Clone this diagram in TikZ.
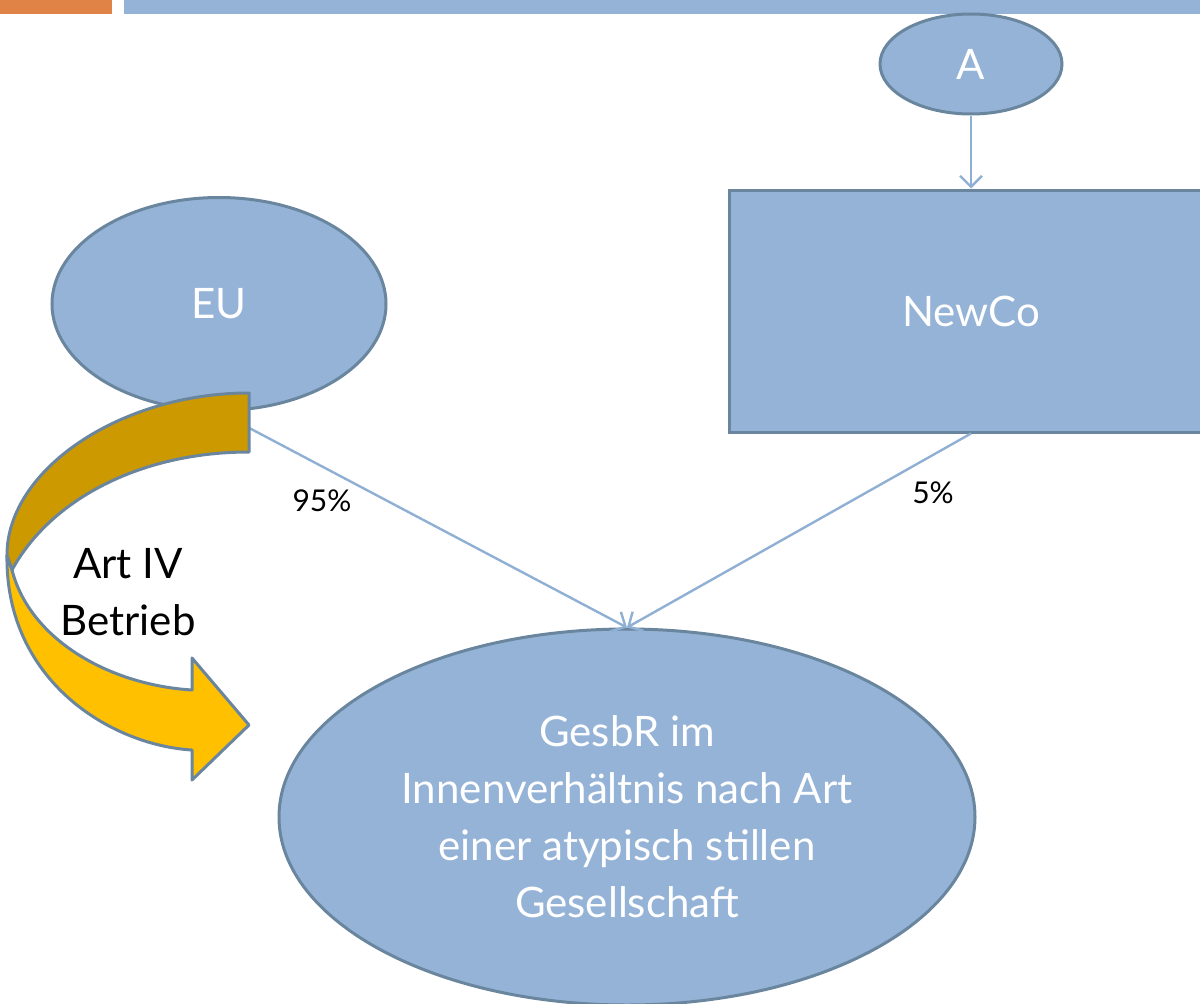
\documentclass[tikz,border=0pt]{standalone}
\usepackage{fontspec}
\setmainfont{Lato}
\usetikzlibrary{shapes.geometric,arrows.meta}
\definecolor{boxblue}{RGB}{149,179,215}
\definecolor{edgeslate}{RGB}{106,134,159}
\definecolor{linkblue}{RGB}{143,176,212}
\definecolor{barorange}{RGB}{223,131,71}
\definecolor{goldband}{RGB}{204,153,0}
\definecolor{amberband}{RGB}{255,192,0}
\begin{document}
\begin{tikzpicture}[x=1pt,y=-1pt,
  entity/.style={fill=boxblue,draw=edgeslate,line width=3pt,text=white,
    font=\fontsize{42}{57}\selectfont,align=center,inner sep=0pt},
  oval/.style={entity,ellipse},
  link/.style={draw=linkblue,line width=2.4pt,-{Straight Barb[length=11pt,width=22pt]}},
  pct/.style={font=\fontsize{30}{34}\selectfont,text=black,inner sep=0pt},
  band/.style={draw=edgeslate,line width=3pt,line join=round}]
\useasboundingbox (0,0) rectangle (1200,1004);
\clip (0,0) rectangle (1200,1004);

% header bars
\fill[barorange] (0,0) rectangle (112,14);
\fill[boxblue] (124,0) rectangle (1200,14);

% entities
\node[oval,minimum width=182pt,minimum height=100pt] (A) at (971,64) {A};
\node[entity,rectangle,minimum width=484pt,minimum height=242pt] (N) at (971,311) {NewCo};
\node[oval,minimum width=334pt,minimum height=213pt] (EU) at (219,304) {EU};
\node[oval,minimum width=696pt,minimum height=376pt] (G) at (627,817)
  {GesbR im\\Innenverhältnis nach Art\\einer atypisch stillen\\Gesellschaft};

% participations
\draw[link] (A) -- (N);
\draw[link] (EU.south) -- (G.north);
\draw[link] (N.south) -- (G.north);
\node[pct] (pEU) at (322,501) {95\%};
\node[pct] (pN) at (933,493) {5\%};

% curved transfer arrow
\draw[band,fill=amberband] (7,555) .. controls (5,680) and (110,745) .. (192,750)
  -- (192,780) -- (249,725) -- (192,658) -- (192,690)
  .. controls (110,685) and (30,640) .. (12,570) -- cycle;
\draw[band,fill=goldband] (249,393) .. controls (120,393) and (7,470) .. (7,555)
  -- (12,570) .. controls (50,500) and (140,452) .. (249,452) -- cycle;
\node[font=\fontsize{42}{57}\selectfont,align=center,inner sep=0pt] (art) at (128,592) {Art IV\\Betrieb};
\end{tikzpicture}
\end{document}
